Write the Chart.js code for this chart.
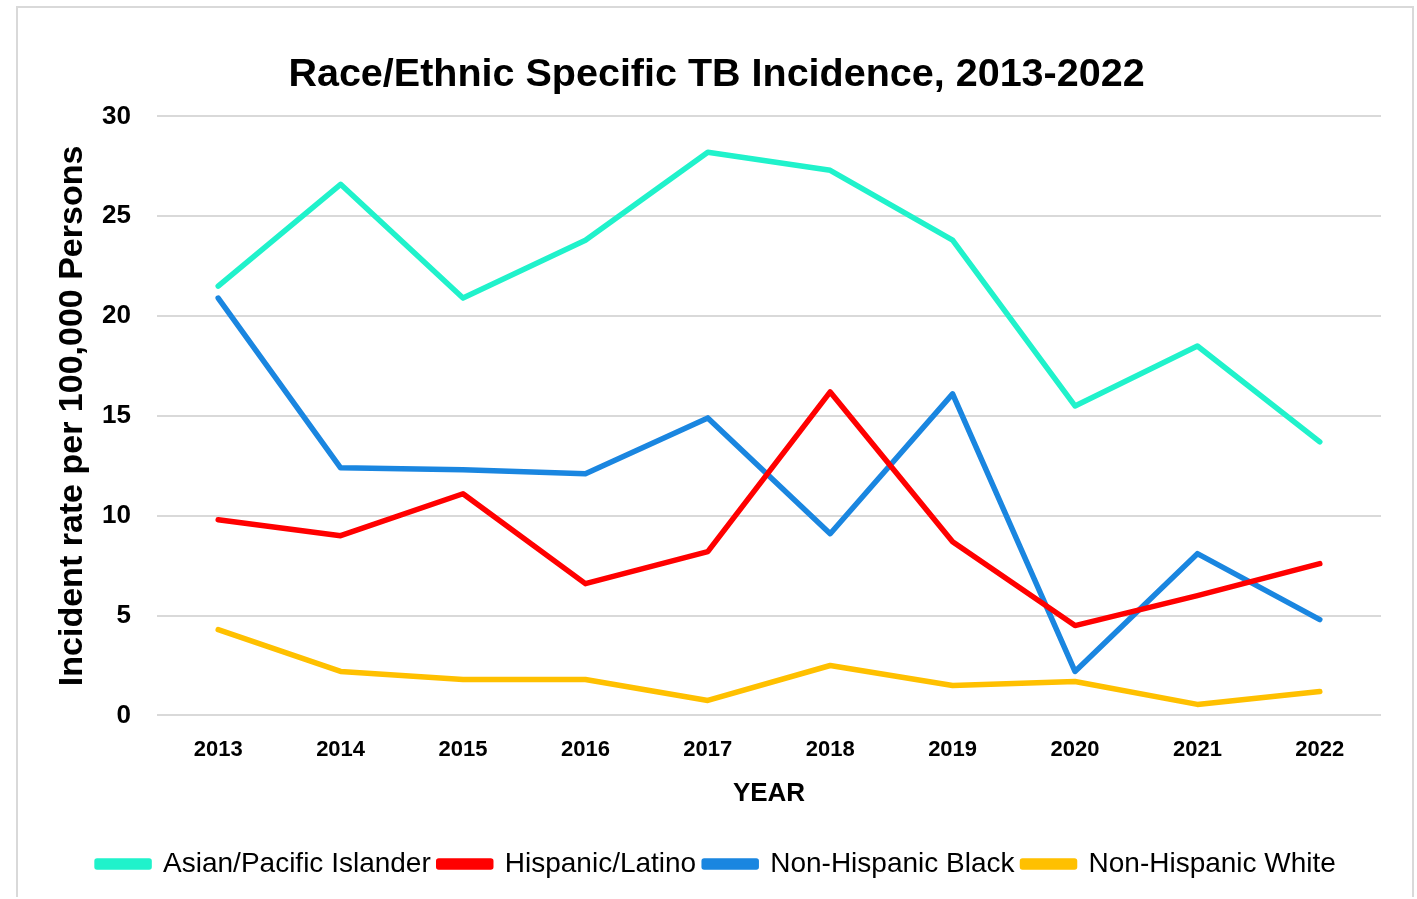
<!DOCTYPE html>
<html>
<head>
<meta charset="utf-8">
<script src="https://cdn.jsdelivr.net/npm/chart.js@4.4.1/dist/chart.umd.min.js"></script>
<style>
  body { margin: 0; background: #fff; }
  #wrap { position: absolute; left: 16px; top: 6px; width: 1394px; height: 889px; border: 2px solid #d9d9d9; border-bottom: none; }
</style>
</head>
<body>
<div id="wrap"><canvas id="myChart"></canvas></div>
<script>
const years = ['2013', '2014', '2015', '2016', '2017', '2018', '2019', '2020', '2021', '2022'];
const asianPacific = [21.5, 26.6, 20.9, 23.8, 28.2, 27.3, 23.8, 15.5, 18.5, 13.7];
const hispanicLatino = [9.8, 9.0, 11.1, 6.6, 8.2, 16.2, 8.7, 4.5, 6.0, 7.6];
const nhBlack = [20.9, 12.4, 12.3, 12.1, 14.9, 9.1, 16.1, 2.2, 8.1, 4.8];
const nhWhite = [4.3, 2.2, 1.8, 1.8, 0.75, 2.5, 1.5, 1.7, 0.55, 1.2];

function series(label, data, color) {
    return {
        label: label,
        data: data,
        borderColor: color,
        backgroundColor: color,
        borderWidth: 5.5,
        pointRadius: 0,
        tension: 0,
        borderCapStyle: 'round',
        borderJoinStyle: 'round'
    };
}

const ctx = document.getElementById('myChart').getContext('2d');
const myChart = new Chart(ctx, {
    type: 'line',
    data: {
        labels: years,
        datasets: [
            series('Asian/Pacific Islander', asianPacific, '#20F2CB'),
            series('Hispanic/Latino', hispanicLatino, '#FF0000'),
            series('Non-Hispanic Black', nhBlack, '#1A86E0'),
            series('Non-Hispanic White', nhWhite, '#FFC000')
        ]
    },
    options: {
        responsive: true,
        maintainAspectRatio: false,
        animation: false,
        layout: { padding: { left: 34, right: 31, top: 43, bottom: 9 } },
        plugins: {
            title: {
                display: true,
                text: 'Race/Ethnic Specific TB Incidence, 2013-2022',
                color: '#000',
                font: { family: 'Liberation Sans', size: 39.5, weight: 'bold' },
                padding: { top: 0, bottom: 18 }
            },
            legend: {
                position: 'bottom',
                labels: {
                    color: '#000',
                    font: { family: 'Liberation Sans', size: 28 },
                    boxWidth: 52,
                    boxHeight: 6,
                    padding: 8
                }
            },
            tooltip: { enabled: false }
        },
        scales: {
            x: {
                offset: true,
                grid: { display: false },
                border: { display: false },
                ticks: {
                    color: '#000',
                    font: { family: 'Liberation Sans', size: 22, weight: 'bold' },
                    padding: 13
                },
                title: {
                    display: true,
                    text: 'YEAR',
                    color: '#000',
                    font: { family: 'Liberation Sans', size: 26, weight: 'bold' },
                    padding: { top: 2, bottom: 33 }
                }
            },
            y: {
                min: 0,
                max: 30,
                afterFit: (scale) => { scale.width = 105; },
                ticks: {
                    stepSize: 5,
                    color: '#000',
                    font: { family: 'Liberation Sans', size: 26, weight: 'bold' },
                    padding: 26
                },
                grid: { color: '#d9d9d9', lineWidth: 2, drawTicks: false },
                border: { display: false },
                title: {
                    display: true,
                    text: 'Incident rate per 100,000 Persons',
                    color: '#000',
                    font: { family: 'Liberation Sans', size: 34, weight: 'bold' },
                    padding: { top: 0, bottom: 8 }
                }
            }
        }
    }
});
</script>
</body>
</html>
